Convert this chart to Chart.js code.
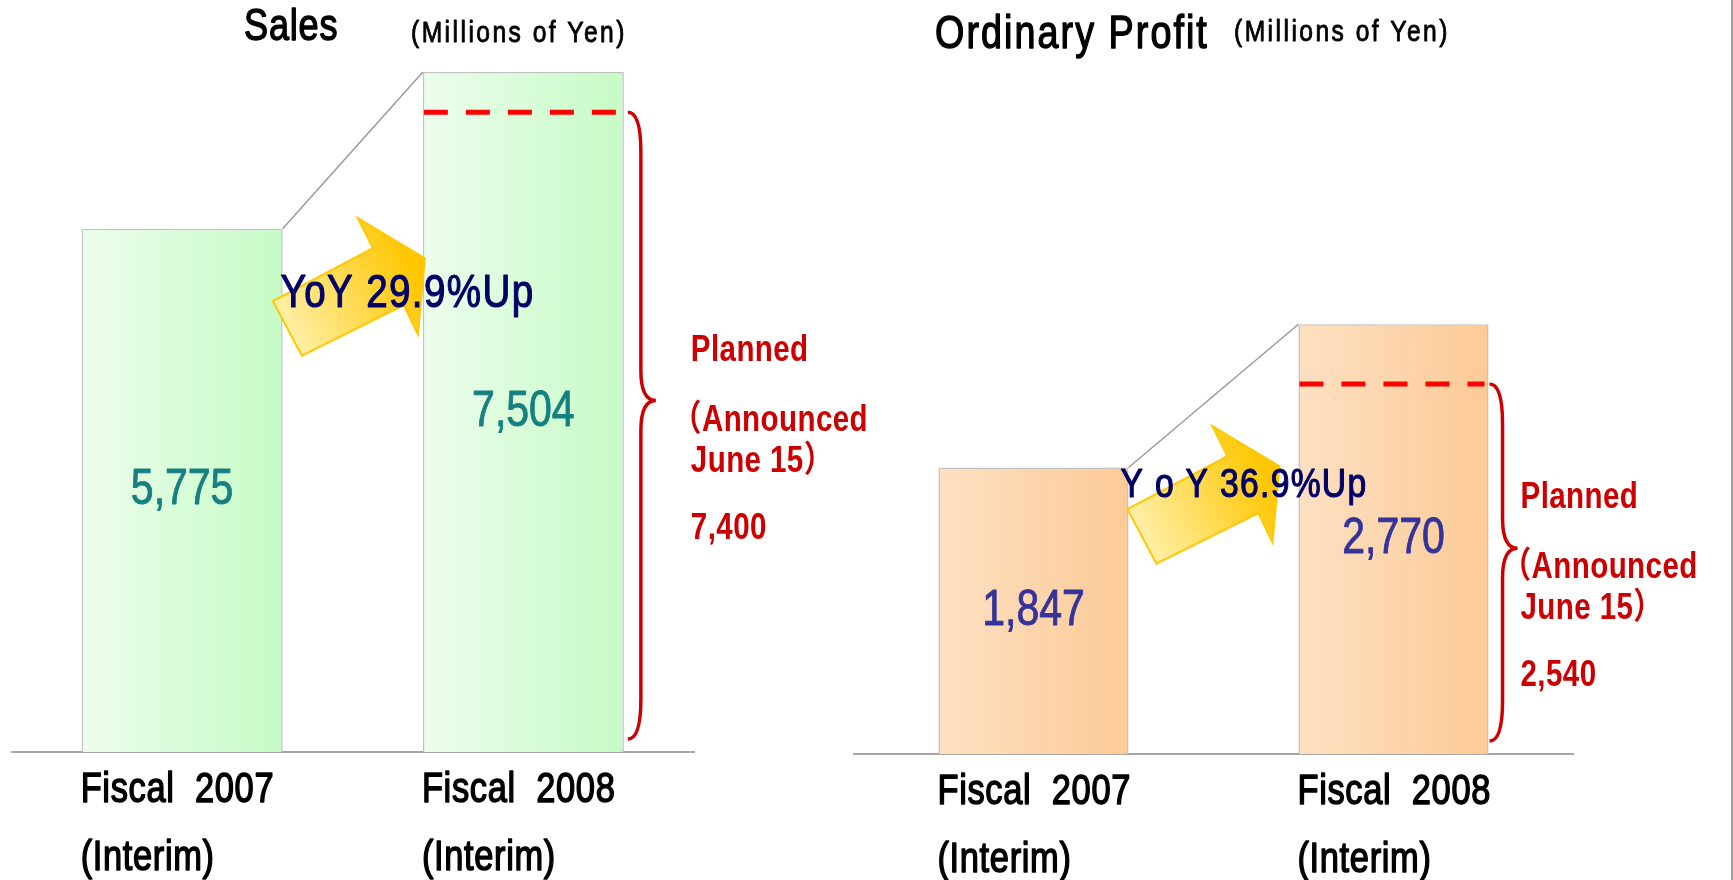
<!DOCTYPE html>
<html>
<head>
<meta charset="utf-8">
<script src="https://cdn.jsdelivr.net/npm/chart.js@4.4.1/dist/chart.umd.min.js"></script>
<style>
  html, body { margin: 0; padding: 0; background: #fff; }
  body { width: 1733px; height: 880px; position: relative; overflow: hidden; }
  canvas { position: absolute; top: 0; }
  #salesChart { left: 0; }
  #profitChart { left: 780px; }
  #edge { position: absolute; left: 1731px; top: 0; width: 2px; height: 880px; background: #a0a0a0; }
</style>
</head>
<body>
<canvas id="salesChart" width="900" height="880"></canvas>
<canvas id="profitChart" width="953" height="880"></canvas>
<div id="edge"></div>
<script>
// Data
const categories = [["Fiscal  2007", "(Interim)"], ["Fiscal  2008", "(Interim)"]];
const salesValues = [5775, 7504];
const profitValues = [1847, 2770];
const salesPlan = 7400;
const profitPlan = 2540;
// level where the dashed "planned" line sits in the picture
const salesPlanMark = 7060;
const profitPlanMark = 2385;
const yoyLabels = ["YoY 29.9%Up", "Y o Y 36.9%Up"];
const planLines = ["Planned", "（Announced", "June 15）"];

const FONT = "'Liberation Sans', Arial, 'Noto Sans CJK JP', sans-serif";
const NARROW = 0.82; // squeeze Liberation Sans to a narrow face
const ARROW = [[-152, 43], [-52, -10], [-67, -40], [0, 0], [-7, 76], [-21, 47], [-123, 97.5]];

function fmt(v) { return v.toLocaleString("en-US"); }

function barBox(el) {
  return { left: el.x - el.width / 2, right: el.x + el.width / 2, top: el.y, bottom: el.base, cx: el.x };
}

function barGradient(from, to, pct) {
  return (c) => {
    const chart = c.chart;
    const xs = chart.scales.x;
    if (!chart.chartArea || !xs || c.dataIndex === undefined) return to;
    const cx = xs.getPixelForValue(c.dataIndex);
    const w = xs.width / chart.data.labels.length * pct;
    const g = chart.ctx.createLinearGradient(cx - w / 2, 0, cx + w / 2, 0);
    g.addColorStop(0, from);
    g.addColorStop(1, to);
    return g;
  };
}

function drawArrow(ctx, tx, ty) {
  const g = ctx.createLinearGradient(tx - 137, ty + 70, tx - 10, ty + 10);
  g.addColorStop(0, "#ffefa6");
  g.addColorStop(1, "#ffc600");
  ctx.beginPath();
  ARROW.forEach(([dx, dy], i) => i ? ctx.lineTo(tx + dx, ty + dy) : ctx.moveTo(tx + dx, ty + dy));
  ctx.closePath();
  ctx.fillStyle = g;
  ctx.fill();
  ctx.strokeStyle = "#ffc800";
  ctx.lineWidth = 2;
  ctx.stroke();
}

function drawBrace(ctx, x0, yTop, yTip, yBot) {
  const xs = x0 + 13, xt = x0 + 28, r = 40, rt = 30;
  ctx.beginPath();
  ctx.moveTo(x0, yTop);
  ctx.quadraticCurveTo(xs, yTop, xs, yTop + r);
  ctx.lineTo(xs, yTip - rt);
  ctx.quadraticCurveTo(xs, yTip, xt, yTip);
  ctx.quadraticCurveTo(xs, yTip, xs, yTip + rt);
  ctx.lineTo(xs, yBot - r);
  ctx.quadraticCurveTo(xs, yBot, x0, yBot);
  ctx.stroke();
}

// narrow text: Liberation Sans squeezed horizontally, optionally thickened with a stroke
function text(ctx, str, x, y, font, color, spacing, align, weight, trimLeft) {
  ctx.save();
  ctx.font = font;
  ctx.fillStyle = color;
  ctx.letterSpacing = spacing || "0px";
  ctx.textAlign = align || "left";
  ctx.translate(x, y);
  ctx.scale(NARROW, 1);
  const dx = trimLeft ? ctx.measureText(str).actualBoundingBoxLeft : 0;
  ctx.fillText(str, dx, 0);
  if (weight) {
    ctx.strokeStyle = color;
    ctx.lineWidth = weight;
    ctx.lineJoin = "round";
    ctx.strokeText(str, dx, 0);
  }
  ctx.restore();
}

const overlay = {
  id: "overlay",
  beforeDatasetsDraw(chart) {
    const ctx = chart.ctx;
    const bars = chart.getDatasetMeta(0).data;
    const b1 = barBox(bars[0]), b2 = barBox(bars[1]);
    // connector from previous year's bar to this year's bar
    ctx.save();
    ctx.strokeStyle = "#9a9a9a";
    ctx.lineWidth = 1.5;
    ctx.beginPath();
    ctx.moveTo(b1.right, b1.top);
    ctx.lineTo(b2.left, b2.top);
    ctx.stroke();
    ctx.restore();
  },
  afterDatasetsDraw(chart, args, o) {
    const ctx = chart.ctx;
    const ys = chart.scales.y;
    const area = chart.chartArea;
    const bars = chart.getDatasetMeta(0).data;
    const b1 = barBox(bars[0]), b2 = barBox(bars[1]);
    const values = chart.data.datasets[0].data;
    ctx.save();
    ctx.textBaseline = "middle";

    // titles
    text(ctx, o.title, o.titleX, o.titleY, `${o.titleSize}px ${FONT}`, "#000", o.titleSpacing, "left", 1.4);
    text(ctx, "(Millions of Yen)", o.unitX, o.unitY, `30px ${FONT}`, "#000", "3px", "left", 0.9);

    // category labels under the axis, starting at each bar's left edge
    chart.data.labels.forEach((lab, i) => {
      const b = barBox(bars[i]);
      lab.forEach((line, j) => {
        text(ctx, line, b.left - 1, area.bottom + 38 + j * 68, `42px ${FONT}`, "#000", "0.8px", "left", 1.5);
      });
    });

    // arrow
    drawArrow(ctx, b2.left + o.arrowDx, ys.getPixelForValue(o.arrowLevel));

    // values in the middle of the bars
    [b1, b2].forEach((b, i) => {
      text(ctx, fmt(values[i]), b.cx, (b.top + b.bottom) / 2, `50px ${FONT}`, o.valueColor, "0px", "center", 0.9);
    });

    // YoY
    ctx.textBaseline = "alphabetic";
    text(ctx, o.yoy, b1.right + o.yoyDx, ys.getPixelForValue(o.yoyLevel), `${o.yoySize}px ${FONT}`, "#000066", o.yoySpacing, "left", 1.2);
    ctx.textBaseline = "middle";

    // planned dashed line
    const dashY = ys.getPixelForValue(o.planMark);
    ctx.strokeStyle = "#ff0000";
    ctx.lineWidth = 5;
    ctx.setLineDash([24, 18]);
    ctx.beginPath();
    ctx.moveTo(b2.left + 1, dashY);
    ctx.lineTo(b2.right - 4, dashY);
    ctx.stroke();
    ctx.setLineDash([]);

    // brace
    const yBot = b2.bottom - 13;
    const yTip = dashY + 0.46 * (yBot - dashY);
    ctx.strokeStyle = "#cc0000";
    ctx.lineWidth = 3.5;
    drawBrace(ctx, b2.right + o.braceDx, dashY, yTip, yBot);

    // planned text
    const lines = planLines.concat([fmt(o.plan)]);
    const offs = [-50, 20, 61, 128];
    lines.forEach((s, i) => {
      text(ctx, s, b2.right + o.planDx, yTip + offs[i], `bold 36px ${FONT}`, "#cc0000", "0.5px", "left", 0, s.startsWith("（"));
    });
    ctx.restore();
  }
};

function makeChart(id, values, max, pct, colors, axisHeight, padding, extra) {
  return new Chart(document.getElementById(id), {
    type: "bar",
    data: {
      labels: categories,
      datasets: [{
        data: values,
        backgroundColor: barGradient(colors[0], colors[1], pct),
        borderColor: "#c2c2c2",
        borderWidth: 1.5,
        categoryPercentage: 1,
        barPercentage: pct
      }]
    },
    options: {
      responsive: false,
      animation: false,
      layout: { padding: padding },
      scales: {
        x: {
          grid: { display: false, drawTicks: false },
          border: { display: true, color: "#a6a6a6", width: 2 },
          ticks: { display: false },
          afterFit: (s) => { s.height = axisHeight; }
        },
        y: { display: false, min: 0, max: max }
      },
      plugins: {
        legend: { display: false },
        tooltip: { enabled: false },
        overlay: extra
      }
    },
    plugins: [overlay]
  });
}

makeChart("salesChart", salesValues, 8300, 0.589, ["#ecfdec", "#c6fbc6"], 128,
  { left: 11.5, right: 206, top: 0, bottom: 0 },
  {
    title: "Sales", titleX: 244, titleY: 28, titleSize: 44, titleSpacing: "1px",
    unitX: 411, unitY: 34,
    valueColor: "#168080",
    yoy: yoyLabels[0], yoyDx: -2, yoyLevel: 4910, yoySize: 47, yoySpacing: "1.7px",
    arrowDx: 2, arrowLevel: 5450,
    plan: salesPlan, planMark: salesPlanMark,
    braceDx: 4, planDx: 67
  });

makeChart("profitChart", profitValues, 4860, 0.528, ["#fde0c2", "#fcca96"], 126,
  { left: 73.5, right: 159.5, top: 0, bottom: 0 },
  {
    title: "Ordinary Profit", titleX: 155, titleY: 35, titleSize: 46, titleSpacing: "2.5px",
    unitX: 454, unitY: 33,
    valueColor: "#333399",
    yoy: yoyLabels[1], yoyDx: -8, yoyLevel: 1655, yoySize: 41, yoySpacing: "1.6px",
    arrowDx: -19, arrowLevel: 1855,
    plan: profitPlan, planMark: profitPlanMark,
    braceDx: 1, planDx: 32
  });
</script>
</body>
</html>
